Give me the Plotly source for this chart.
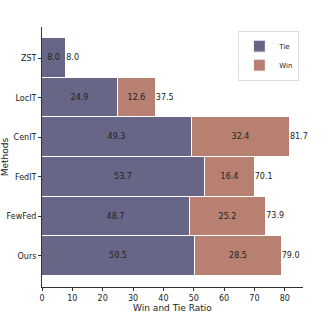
import plotly.graph_objects as go

methods = ["ZST", "LocIT", "CenIT", "FedIT", "FewFed", "Ours"]
tie = [8.0, 24.9, 49.3, 53.7, 48.7, 50.5]
win = [0.0, 12.6, 32.4, 16.4, 25.2, 28.5]
total = [8.0, 37.5, 81.7, 70.1, 73.9, 79.0]

tie_color = "#686686"
win_color = "#b78071"

fig = go.Figure()
fig.add_trace(go.Bar(
    y=methods, x=tie, orientation="h", name="Tie",
    marker=dict(color=tie_color, line=dict(color="white", width=1)),
    text=[f"{v:.1f}" for v in tie], textposition="inside",
    insidetextanchor="middle", textfont=dict(color="#222", size=8),
    constraintext="none", width=1,
))
fig.add_trace(go.Bar(
    y=methods, x=win, orientation="h", name="Win",
    marker=dict(color=win_color, line=dict(color="white", width=1)),
    text=[f"{v:.1f}" if v > 0 else "" for v in win], textposition="inside",
    insidetextanchor="middle", textfont=dict(color="#222", size=8),
    constraintext="none", width=1,
))
fig.add_trace(go.Scatter(
    y=methods, x=total, mode="text", text=[f"{v:.1f}" for v in total],
    textposition="middle right", textfont=dict(color="#222", size=8),
    showlegend=False, hoverinfo="skip", cliponaxis=False,
))

fig.update_layout(
    width=336, height=317,
    margin=dict(l=42, r=33, t=27, b=30),
    barmode="stack", bargap=0,
    plot_bgcolor="white", paper_bgcolor="white",
    font=dict(family="DejaVu Sans", size=8, color="#222"),
    showlegend=True,
    legend=dict(x=0.986, y=0.986, xanchor="right", yanchor="top",
                traceorder="normal",
                bgcolor="white", bordercolor="#dddddd", borderwidth=1,
                font=dict(size=7), itemwidth=30, tracegroupgap=0),
)
fig.update_xaxes(
    range=[0, 86], tickvals=[0, 10, 20, 30, 40, 50, 60, 70, 80], automargin=False,
    showgrid=False, zeroline=False, showline=True, linecolor="#333", linewidth=1,
    ticks="outside", ticklen=3, tickcolor="#333", tickfont=dict(size=8),
    title=dict(text="Win and Tie Ratio", font=dict(size=9), standoff=1),
)
fig.update_yaxes(
    categoryorder="array", categoryarray=methods, range=[5.79, -0.79], automargin=False,
    showgrid=False, zeroline=False, showline=True, linecolor="#333", linewidth=1,
    ticks="outside", ticklen=3, tickcolor="#333", tickfont=dict(size=8),
    title=dict(text="Methods", font=dict(size=9), standoff=3),
)

fig.write_html("out.html", config={"displayModeBar": False},
               post_script="document.body.style.margin='0';document.body.style.overflow='hidden';")
